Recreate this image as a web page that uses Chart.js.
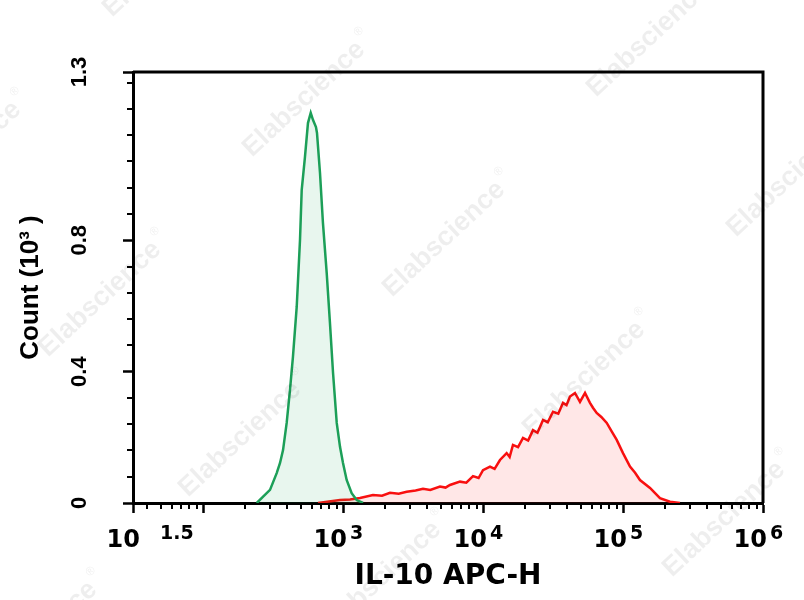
<!DOCTYPE html>
<html>
<head>
<meta charset="utf-8">
<script src="https://cdn.jsdelivr.net/npm/chart.js@4.4.1/dist/chart.umd.min.js"></script>
<style>
    html, body { margin: 0; padding: 0; background: #fff; }
    #wrap { width: 804px; height: 600px; }
</style>
</head>
<body>
<div id="wrap"><canvas id="histChart" width="804" height="600"></canvas></div>
<script>
// ─── Data ──────────────────────────────────────────────────────────────
const greenX = [242, 301, 336, 355, 373, 396, 418, 439, 467, 493, 507, 535, 562, 588, 611, 641, 652, 685, 719, 765, 807, 849, 902, 952, 1000, 1062, 1153, 1253, 1390];
const greenY = [0, 0.040, 0.091, 0.122, 0.161, 0.244, 0.344, 0.445, 0.597, 0.801, 0.953, 1.054, 1.157, 1.188, 1.166, 1.145, 1.127, 1.005, 0.853, 0.700, 0.548, 0.396, 0.244, 0.171, 0.122, 0.070, 0.030, 0.009, 0];

const redX = [663, 952, 1122, 1322, 1637, 1900, 2166, 2500, 2851, 3300, 3728, 4200, 4929, 5400, 5808, 6852, 7600, 8483, 9300, 10000, 11220, 12100, 13220, 14750, 15500, 16370, 17800, 19310, 21000, 22760, 24500, 26840, 29000, 31620, 34500, 37280, 39500, 41800, 45390, 49290, 53540, 58090, 61000, 64860, 70000, 76560, 83000, 90190, 100000, 112200, 122000, 132200, 155900, 183700, 216600, 255300];
const redY = [0, 0.009, 0.011, 0.015, 0.024, 0.022, 0.031, 0.028, 0.034, 0.038, 0.043, 0.040, 0.050, 0.047, 0.055, 0.065, 0.062, 0.082, 0.076, 0.100, 0.111, 0.104, 0.131, 0.152, 0.140, 0.177, 0.170, 0.198, 0.190, 0.222, 0.214, 0.253, 0.246, 0.278, 0.272, 0.305, 0.298, 0.324, 0.335, 0.308, 0.335, 0.305, 0.290, 0.274, 0.262, 0.244, 0.218, 0.192, 0.152, 0.111, 0.092, 0.070, 0.046, 0.015, 0.004, 0];

// axis ticks
const xMajorTicks = [10 ** 1.5, 1e2, 1e3, 1e4, 1e5, 1e6];
const xLabelValues = [10 ** 1.5, 1e3, 1e4, 1e5, 1e6];
const xLabelExponents = ['1.5', '3', '4', '5', '6'];
const xMinorTicks = [40, 50, 60, 70, 80, 90,
    200, 300, 400, 500, 600, 700, 800, 900,
    2e3, 3e3, 4e3, 5e3, 6e3, 7e3, 8e3, 9e3,
    2e4, 3e4, 4e4, 5e4, 6e4, 7e4, 8e4, 9e4,
    2e5, 3e5, 4e5, 5e5, 6e5, 7e5, 8e5, 9e5];
const yMajorTicks = [0, 0.4, 0.8, 1.3125];
const yTickLabels = ['0', '0.4', '0.8', '1.3'];
const yMinorTicks = [0.08, 0.16, 0.24, 0.32, 0.48, 0.56, 0.64, 0.72, 0.88, 0.96, 1.04, 1.12, 1.2, 1.28];

const toPoints = (xs, ys) => xs.map((x, i) => ({ x: x, y: ys[i] }));

// ─── Plugins ───────────────────────────────────────────────────────────
const watermark = {
    id: 'watermark',
    afterDatasetsDraw(chart) {
        const ctx = chart.ctx;
        ctx.save();
        ctx.font = 'bold 27px "Liberation Sans", Arial, sans-serif';
        ctx.fillStyle = 'rgba(0, 0, 0, 0.065)';
        ctx.textAlign = 'center';
        ctx.textBaseline = 'middle';
        for (let i = -3; i <= 6; i++) {
            for (let j = -3; j <= 4; j++) {
                const cx = 304 + i * 140 - j * 204;
                const cy = 99 + i * 140 + j * 200;
                if (cx < -150 || cx > 950 || cy < -150 || cy > 750) continue;
                ctx.save();
                ctx.translate(cx, cy);
                ctx.rotate(-43 * Math.PI / 180);
                ctx.font = 'bold 27px "Liberation Sans", Arial, sans-serif';
                ctx.fillText('Elabscience', 0, 0);
                ctx.font = '12px "Liberation Sans", Arial, sans-serif';
                ctx.fillText('®', 86, -12);
                ctx.restore();
            }
        }
        ctx.restore();
    }
};

const frameAndTicks = {
    id: 'frameAndTicks',
    afterDraw(chart) {
        const { ctx, chartArea: a } = chart;
        const xs = chart.scales.x, ys = chart.scales.y;
        ctx.save();
        ctx.strokeStyle = '#000';
        ctx.lineWidth = 3;
        ctx.beginPath();
        ctx.moveTo(a.left, a.top);
        ctx.lineTo(a.right, a.top);
        ctx.lineTo(a.right, a.bottom);
        ctx.stroke();

        // minor ticks
        ctx.lineWidth = 2;
        ctx.beginPath();
        xMinorTicks.forEach(v => {
            const px = Math.round(xs.getPixelForValue(v));
            ctx.moveTo(px, a.bottom);
            ctx.lineTo(px, a.bottom + 6);
        });
        yMinorTicks.forEach(v => {
            const py = Math.round(ys.getPixelForValue(v));
            ctx.moveTo(a.left, py);
            ctx.lineTo(a.left - 6, py);
        });
        ctx.stroke();

        // x tick labels with superscripts
        ctx.fillStyle = '#000';
        xLabelValues.forEach((v, i) => {
            const px = xs.getPixelForValue(v);
            const exp = xLabelExponents[i];
            const gap = exp.includes('.') ? 20 : 3;
            const right = exp.includes('.') ? px + 7 : px + 4;
            ctx.font = 'bold 24px "DejaVu Sans", sans-serif';
            ctx.textAlign = 'right';
            ctx.textBaseline = 'alphabetic';
            ctx.fillText('10', right, 547);
            ctx.font = 'bold 19px "DejaVu Sans", sans-serif';
            ctx.textAlign = 'left';
            ctx.fillText(exp, right + gap, 539);
        });
        ctx.restore();
    }
};

// ─── Chart ─────────────────────────────────────────────────────────────
new Chart(document.getElementById('histChart'), {
    type: 'line',
    data: {
        datasets: [{
            label: 'Isotype',
            data: toPoints(greenX, greenY),
            borderColor: '#1c9f58',
            backgroundColor: 'rgba(30, 170, 90, 0.1)',
            borderWidth: 2.5,
            fill: 'origin',
            pointRadius: 0,
            tension: 0
        }, {
            label: 'IL-10',
            data: toPoints(redX, redY),
            borderColor: '#f81010',
            backgroundColor: 'rgba(255, 40, 40, 0.11)',
            borderWidth: 2.5,
            fill: 'origin',
            pointRadius: 0,
            tension: 0
        }]
    },
    options: {
        responsive: false,
        animation: false,
        devicePixelRatio: 1,
        layout: { padding: { top: 72, right: 41, left: 0, bottom: 0 } },
        plugins: {
            legend: { display: false },
            tooltip: { enabled: false }
        },
        scales: {
            x: {
                type: 'logarithmic',
                min: 10 ** 1.5,
                max: 1e6,
                afterBuildTicks: s => { s.ticks = xMajorTicks.map(v => ({ value: v })); },
                afterFit: s => { s.height = 97; },
                ticks: { callback: () => '', autoSkip: false, maxRotation: 0 },
                grid: { drawOnChartArea: false, drawTicks: true, tickLength: 10, tickWidth: 2.5, tickColor: '#000' },
                border: { color: '#000', width: 3 },
                title: {
                    display: true,
                    text: 'IL-10 APC-H',
                    color: '#000',
                    font: { family: '"DejaVu Sans", sans-serif', size: 28, weight: 'bold' },
                    padding: { top: 0, bottom: 6 }
                }
            },
            y: {
                min: 0,
                max: 1.3125,
                afterBuildTicks: s => { s.ticks = yMajorTicks.map(v => ({ value: v })); },
                afterFit: s => { s.width = 133; },
                ticks: {
                    autoSkip: false,
                    minRotation: 90,
                    maxRotation: 90,
                    crossAlign: 'center',
                    padding: 28,
                    color: '#000',
                    font: { family: '"Liberation Sans", Arial, sans-serif', size: 22, weight: 'bold' },
                    callback: v => yTickLabels[yMajorTicks.indexOf(v)]
                },
                grid: { drawOnChartArea: false, drawTicks: true, tickLength: 10, tickWidth: 2.5, tickColor: '#000' },
                border: { color: '#000', width: 3 },
                title: {
                    display: true,
                    text: 'Count (10³ )',
                    color: '#000',
                    font: { family: '"Liberation Sans", Arial, sans-serif', size: 26, weight: 'bold' },
                    padding: { top: 15, bottom: 0 }
                }
            }
        }
    },
    plugins: [watermark, frameAndTicks]
});
</script>
</body>
</html>
